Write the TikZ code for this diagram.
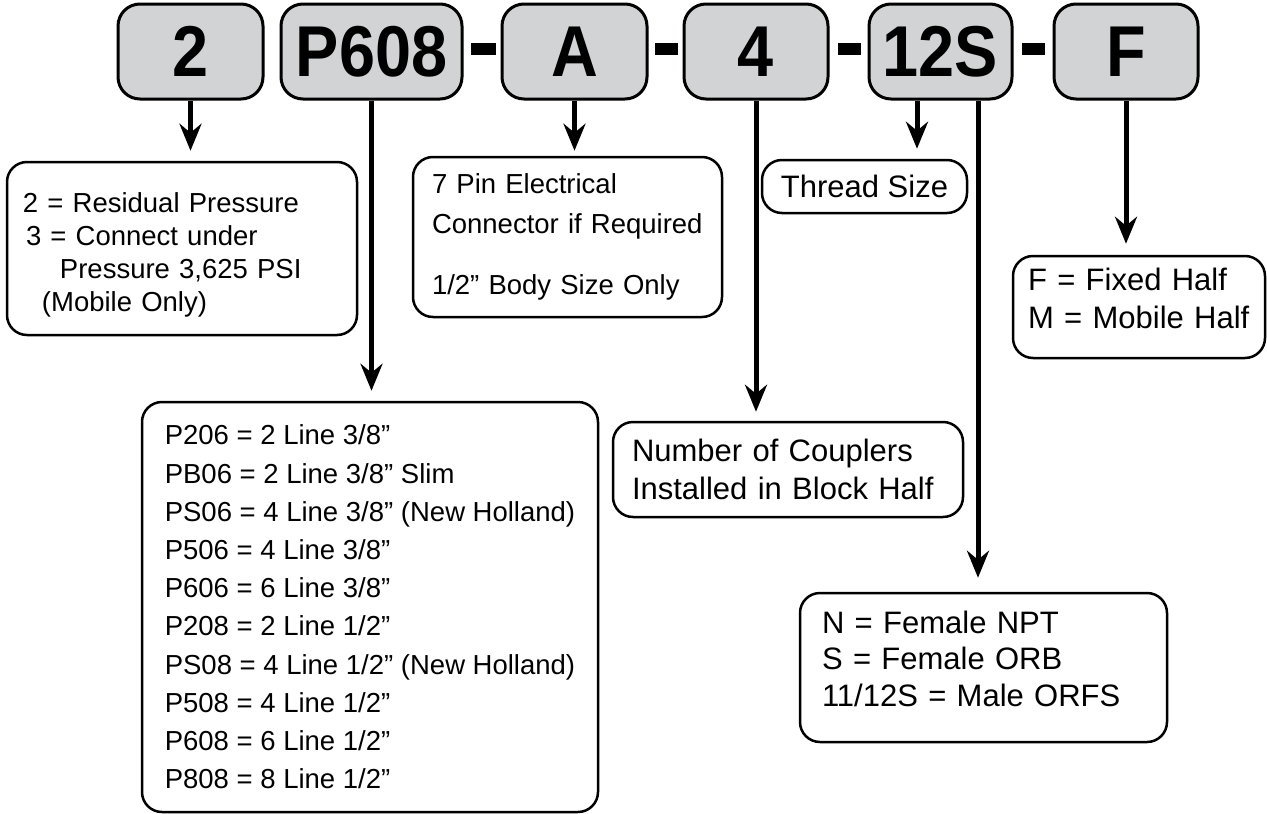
\documentclass[tikz,border=0pt]{standalone}
\usepackage{fontspec}
\setmainfont{Liberation Sans}
\usepackage{graphicx}
\usetikzlibrary{arrows.meta}
\definecolor{partgray}{RGB}{209,211,212}

\begin{document}
\begin{tikzpicture}[x=1pt,y=-1pt,
part box/.style={draw,line width=3pt,rounded corners=22pt,fill=partgray,minimum height=95pt,inner sep=0pt,font=\fontsize{72}{72}\selectfont\bfseries},
dash box/.style={fill=black,minimum height=12pt,inner sep=0pt},
info box/.style={draw,line width=2.5pt,rounded corners=20pt,align=left,inner ysep=0pt},
small text/.style={font=\fontsize{27.5}{33}\selectfont},
big text/.style={font=\fontsize{31}{37.5}\selectfont},
link/.style={line width=5pt,-{Stealth[length=27pt,width=22pt,inset=9pt]},shorten >=10pt}]
\useasboundingbox (0,0) rectangle (1267,814);
\node[part box,minimum width=145pt] (t2) at (190.5,51.5) {\scalebox{0.9}[1]{2}};
\node[part box,minimum width=181pt] (tP) at (371.5,51.5) {\scalebox{0.9}[1]{P608}};
\node[dash box,minimum width=25pt] (d1) at (483.5,49) {};
\node[part box,minimum width=145pt] (tA) at (574.5,51.5) {\scalebox{0.9}[1]{A}};
\node[dash box,minimum width=23pt] (d2) at (666.5,49) {};
\node[part box,minimum width=144pt] (t4) at (756,51.5) {\scalebox{0.9}[1]{4}};
\node[dash box,minimum width=23pt] (d3) at (849.5,49) {};
\node[part box,minimum width=143pt] (tS) at (940.5,51.5) {\scalebox{0.9}[1]{12S}};
\node[dash box,minimum width=23pt] (d4) at (1033.5,49) {};
\node[part box,minimum width=144pt] (tF) at (1126,51.5) {\scalebox{0.9}[1]{F}};

\node[info box,small text,inner xsep=16pt,text width=318pt,minimum height=173pt] (b2) at (182,248.5)
 {\rule{0pt}{32pt}2 = Residual Pressure\\ \hspace*{3pt}3 = Connect under\\ \hspace*{37pt}Pressure 3,625 PSI\\ \hspace*{19pt}(Mobile Only)};
\node[info box,font=\fontsize{27.5}{40}\selectfont,inner xsep=19pt,text width=271pt,minimum height=160pt] (bA) at (567.5,237)
 {7 Pin Electrical\\Connector if Required\\[21pt] 1/2” Body Size Only};
\node[info box,big text,inner xsep=15pt,minimum width=205pt,minimum height=53pt] (bS) at (864.5,186.5) {Thread Size};
\node[info box,font=\fontsize{27.5}{38.2}\selectfont,inner xsep=18pt,minimum width=456pt,minimum height=410pt] (bP) at (370,607)
 {P206 = 2 Line 3/8”\\PB06 = 2 Line 3/8” Slim\\PS06 = 4 Line 3/8” (New Holland)\\P506 = 4 Line 3/8”\\P606 = 6 Line 3/8”\\
  P208 = 2 Line 1/2”\\PS08 = 4 Line 1/2” (New Holland)\\P508 = 4 Line 1/2”\\P608 = 6 Line 1/2”\\P808 = 8 Line 1/2”};
\node[info box,big text,inner xsep=19pt,text width=312pt,minimum height=95pt] (b4) at (788,469.5)
 {Number of Couplers\\Installed in Block Half};
\node[info box,font=\fontsize{31}{36.5}\selectfont,inner xsep=22pt,text width=323pt,minimum height=149pt] (bT) at (983.5,667.5)
 {N = Female NPT\\S = Female ORB\\11/12S = Male ORFS\rule[-18pt]{0pt}{18pt}};
\node[info box,font=\fontsize{31}{38}\selectfont,inner xsep=15pt,text width=222pt,minimum height=102pt] (bF) at (1139,307)
 {F = Fixed Half\\M = Mobile Half\rule[-18pt]{0pt}{18pt}};

\draw[link] (t2) -- (t2 |- b2.north);
\draw[link] (tP) -- (tP |- bP.north);
\draw[link,shorten >=5pt] (tA) -- (tA |- bA.north);
\draw[link,shorten >=9pt] (t4) -- (t4 |- b4.north);
\draw[link] ([xshift=-23.5pt]tS.south) -- ([xshift=-23.5pt]tS.south |- bS.north);
\draw[link,shorten >=14pt] ([xshift=37.5pt]tS.south) -- ([xshift=37.5pt]tS.south |- bT.north);
\draw[link,shorten >=11pt] (tF) -- (tF |- bF.north);
\end{tikzpicture}
\end{document}
